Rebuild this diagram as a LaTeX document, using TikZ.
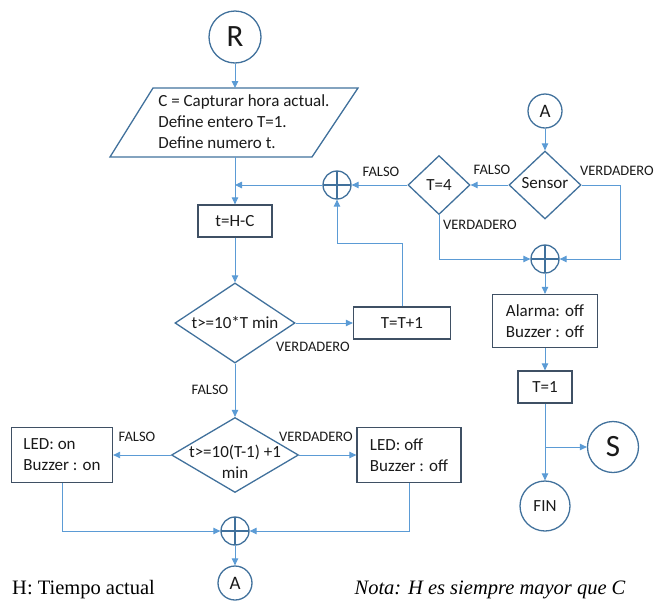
\documentclass[tikz,border=0pt]{standalone}
\usepackage{fontspec}
\setmainfont{Carlito}
\newfontfamily\notafont{Liberation Serif}
\usetikzlibrary{shapes.geometric,arrows.meta}
\definecolor{azulLinea}{HTML}{5B9BD5}
\definecolor{azulBorde}{HTML}{41719C}
\definecolor{grisCaja}{HTML}{3F5064}
\definecolor{tinta}{HTML}{1A1A1A}

\begin{document}
\begin{tikzpicture}[x=1pt,y=-1pt,
	linea/.style={draw=azulLinea,line width=0.9pt},
	flecha/.style={linea,-{Triangle[length=7pt,width=6.5pt]}},
	texto/.style={text=tinta,font=\fontsize{17}{21}\selectfont},
	etiq/.style={text=tinta,font=\fontsize{14.5}{16}\selectfont,inner sep=0pt},
	caja/.style={texto,draw=grisCaja,line width=1.3pt,align=left,inner sep=0pt},
	decision/.style={diamond,draw=azulBorde,line width=1.3pt,inner sep=0pt},
	circulo/.style={circle,draw=azulBorde,line width=1.3pt,inner sep=0pt,text=tinta},
	union/.style={circle,draw=azulBorde,line width=1.3pt,inner sep=0pt,minimum size=28pt,
		path picture={\draw[azulBorde,line width=1.3pt] (path picture bounding box.north) -- (path picture bounding box.south)
			(path picture bounding box.west) -- (path picture bounding box.east);}}]
	\useasboundingbox (0,0) rectangle (656,603);

	% columna central
	\node[circulo,minimum size=52pt,font=\fontsize{31}{33}\selectfont] (R) at (235,37) {R};
	\draw[azulBorde,line width=1.3pt,line join=miter] (153,88) -- (358,88) -- (312,157) -- (110,157) -- cycle;
	\coordinate (datosN) at (235,88);
	\coordinate (datosS) at (235,157);
	\node[texto,align=left,inner sep=0pt] (datos) at (244,122) {C = Capturar hora actual.\\Define entero T=1.\\Define numero t.};
	\node[caja,minimum width=74pt,minimum height=32pt,align=center] (resta) at (235,221) {t=H-C};
	\node[decision,minimum width=120pt,minimum height=80pt,label={[texto]center:t>=10*T min}] (cond1) at (235,323) {};
	\node[caja,minimum width=97pt,minimum height=32pt,align=center] (incT) at (402,323) {T=T+1};
	\node[decision,minimum width=127pt,minimum height=75pt,
		label={[texto,align=center,yshift=-7pt]center:t>=10(T-1) +1\\min}] (cond2) at (235,455) {};
	\node[caja,minimum width=101pt,minimum height=55pt] (ledOn) at (62,455) {LED: on\\Buzzer : on};
	\node[caja,minimum width=104pt,minimum height=55pt] (ledOff) at (409,455) {LED: off\\Buzzer : off};
	\node[union] (u3) at (235,531) {};
	\node[circulo,minimum size=34pt,font=\fontsize{19}{21}\selectfont] (A2) at (235,583) {A};

	% lazo superior
	\node[union] (u1) at (337,185) {};
	\node[decision,minimum width=62pt,minimum height=59pt,label={[texto]center:T=4}] (T4) at (439,185) {};

	% columna derecha
	\node[circulo,minimum size=34pt,font=\fontsize{19}{21}\selectfont] (A1) at (545,111) {A};
	\node[decision,minimum width=72pt,minimum height=68pt,label={[texto,yshift=2pt]center:Sensor}] (sensor) at (545,185) {};
	\node[union] (u2) at (545,259) {};
	\node[caja,minimum width=105pt,minimum height=53pt] (alarma) at (545,321) {Alarma: off\\Buzzer : off};
	\node[caja,minimum width=54pt,minimum height=32pt,align=center] (T1) at (545,387) {T=1};
	\node[circulo,minimum size=51pt,font=\fontsize{31}{33}\selectfont] (S) at (613,447) {S};
	\node[circulo,minimum size=50pt,font=\fontsize{17}{19}\selectfont] (fin) at (545,506) {FIN};

	% conectores
	\draw[flecha] (R.south) -- (datosN);
	\draw[flecha] (datosS) -- (resta.north);
	\draw[flecha] (u1.west) -- (u1.west -| datosS);
	\draw[flecha] (resta.south) -- (cond1.north);
	\draw[flecha] (cond1.east) -- (incT.west);
	\draw[flecha] (incT.north) -- ++(0,-63) -| (u1.south);
	\draw[flecha] (T4.west) -- (u1.east);
	\draw[flecha] (A1.south) -- (sensor.north);
	\draw[flecha] (sensor.west) -- (T4.east);
	\draw[flecha] (sensor.east) -- ++(39,0) |- (u2.east);
	\draw[flecha] (T4.south) |- (u2.west);
	\draw[flecha] (u2.south) -- (alarma.north);
	\draw[flecha] (alarma.south) -- (T1.north);
	\draw[flecha] (T1.south) -- (fin.north);
	\draw[flecha] (T1.south |- S.west) -- (S.west);
	\draw[flecha] (cond1.south) -- (cond2.north);
	\draw[flecha] (cond2.west) -- (ledOn.east);
	\draw[flecha] (cond2.east) -- (ledOff.west);
	\draw[flecha] (ledOn.south) |- (u3.west);
	\draw[flecha] (ledOff.south) |- (u3.east);
	\draw[flecha] (u3.south) -- (A2.north);

	% etiquetas
	\node[etiq] (e1) at (313,347) {VERDADERO};
	\node[etiq] (e2) at (210,390) {FALSO};
	\node[etiq] (e3) at (381,172) {FALSO};
	\node[etiq] (e4) at (492,170) {FALSO};
	\node[etiq] (e5) at (617,171) {VERDADERO};
	\node[etiq] (e6) at (480,225) {VERDADERO};
	\node[etiq] (e7) at (137,437) {FALSO};
	\node[etiq] (e8) at (316,437) {VERDADERO};

	% notas
	\node[anchor=west,inner sep=0pt,font=\notafont\fontsize{20.5}{22}\selectfont] (notaH) at (12,590) {H: Tiempo actual};
	\node[inner sep=0pt,font=\notafont\itshape\fontsize{20.5}{22}\selectfont] (nota) at (490,590) {Nota: H es siempre mayor que C};
\end{tikzpicture}
\end{document}
